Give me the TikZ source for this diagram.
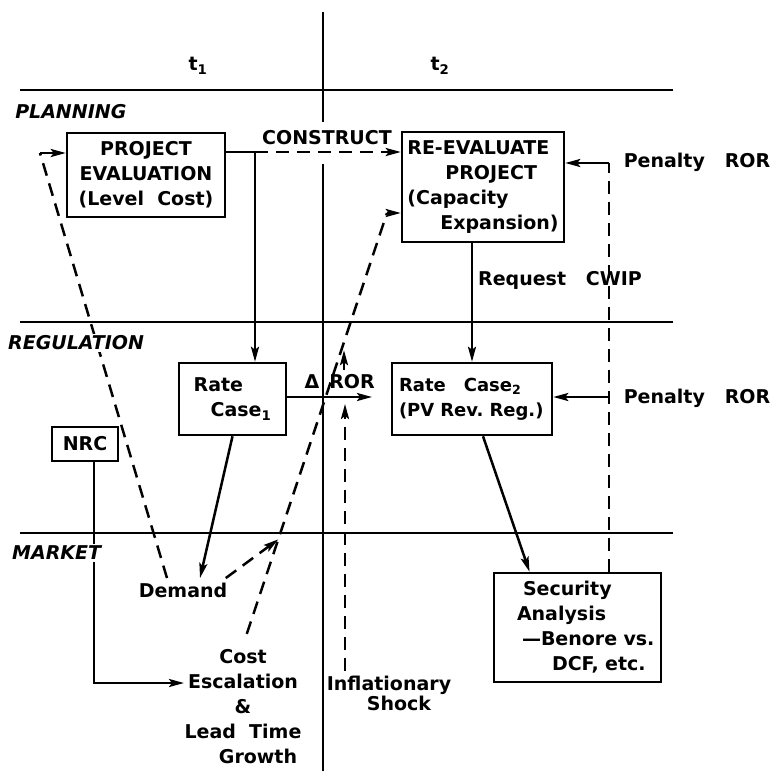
\documentclass[tikz,border=0pt]{standalone}
\usepackage{fontspec}
\setmainfont{DejaVu Sans}
\usetikzlibrary{arrows.meta,calc}
\begin{document}
\begin{tikzpicture}[x=1pt,y=-1pt,line width=2.5pt,
    >={Stealth[length=15pt,width=8pt,inset=3pt]},
    font=\fontsize{19}{25}\selectfont\bfseries,
    box/.style 2 args={draw,minimum width=#1,minimum height=#2,inner sep=0pt},
    lane/.style={font=\fontsize{19}{20}\selectfont\bfseries\itshape,anchor=west,fill=white,inner sep=2pt},
    brk/.style={dash pattern=on 13pt off 8pt}]
  \useasboundingbox (0,0) rectangle (773,771);
  \draw (20,90) -- (673,90);
  \draw (20,322) -- (673,322);
  \draw (20,533) -- (673,533);
  \draw (323,12) -- (323,122);
  \draw (323,164) -- (323,771);
  \node (t1) at (198,66) {t\textsubscript{1}};
  \node (t2) at (440,66) {t\textsubscript{2}};
  \node[box={158pt}{84pt},align=center] (pe) at (146,175) {PROJECT\\EVALUATION\\(Level~~Cost)};
  \node[box={162pt}{110pt},align=left] (rev) at (483,187) {RE-EVALUATE\\\hspace*{38pt}PROJECT\\(Capacity\\\hspace*{33pt}Expansion)};
  \node[box={107pt}{72pt},align=left] (rc1) at (232.5,399) {Rate\\\hspace*{17pt}Case\textsubscript{1}};
  \node[box={160pt}{72pt},align=left,text width=146pt,font=\fontsize{18}{25}\selectfont\bfseries] (rc2) at (472,399) {Rate~~~Case\textsubscript{2}\\(PV~Rev.~Reg.)};
  \node[box={66pt}{34pt}] (nrc) at (85,444) {NRC};
  \node[box={167pt}{109pt},align=left,text width=155pt] (sec) at (577.5,627.5) {\hspace*{23pt}Security\\\hspace*{17pt}Analysis\\\hspace*{22pt}---Benore~vs.\\\hspace*{52pt}DCF, etc.};
  \node (con) at (327,138) {CONSTRUCT};
  \node (pen1) at (697,162) {Penalty~~~ROR};
  \node (pen2) at (697,398) {Penalty~~~ROR};
  \node (req) at (560,280) {Request~~~CWIP};
  \node (dlt) at (312,382) {Δ};
  \node (ror) at (352,382) {ROR};
  \node (dem) at (183,590) {Demand};
  \node[align=center] (cost) at (243,707) {Cost\\Escalation\\\&\\Lead~~Time\hspace*{36pt}\\\hspace*{30pt}Growth};
  \node[align=center,font=\fontsize{19}{20}\selectfont\bfseries] (infl) at (389,693) {Inflationary\\\hspace*{20pt}Shock};
  \coordinate (split) at (255,152);
  \coordinate (lc) at (40,153);
  \coordinate (cr) at (387,213);
  \coordinate (cj) at ($(cost.north)!0.245!(cr)$);
  \coordinate (rorln) at (372,397);
  \coordinate (shk) at (345,404);
  \coordinate (pj) at (609,163);
  \coordinate (pk) at (609,397);
  \coordinate (esc) at (184,683);
  \draw [->] (pe.east|-split) -- (split) -- (split|-rc1.north);
  \draw [->,brk] (split) -- (split-|rev.west);
  \draw [brk] ($(dem.north)+(-16,0)$) -- (lc);
  \draw [->] (lc) -- (lc-|pe.west);
  \draw [brk,shorten <=12pt] (cost.north) -- (cr);
  \draw [->] (cr) -- (cr-|rev.west);
  \draw [->] (rc1.south) -- ($(dem.north)+(17,0)$);
  \draw [->,brk] ($(dem.north east)+(-6,0)$) -- (cj);
  \draw [->] (rc1.east|-rorln) -- (rorln);
  \draw [->,brk] (infl.north-|shk) -- (shk);
  \draw [->] ($(ror.north)+(-8,0)$) -- ++(0,-20);
  \draw [->] (rev.south-|rc2.north) -- (rc2.north);
  \draw [->] ($(rc2.south)+(11,0)$) -- ($(sec.north)+(-48,0)$);
  \draw [brk] (sec.north-|pj) -- (pj);
  \draw [->] (pj) -- (pj-|rev.east);
  \draw [->] (pk) -- (pk-|rc2.east);
  \draw [->] ($(nrc.south)+(9,0)$) |- (esc);
  \node[lane] (plan) at (12,112) {PLANNING};
  \node[lane] (reg) at (5,343) {REGULATION};
  \node[lane] (mkt) at (9,553) {MARKET};
\end{tikzpicture}
\end{document}
